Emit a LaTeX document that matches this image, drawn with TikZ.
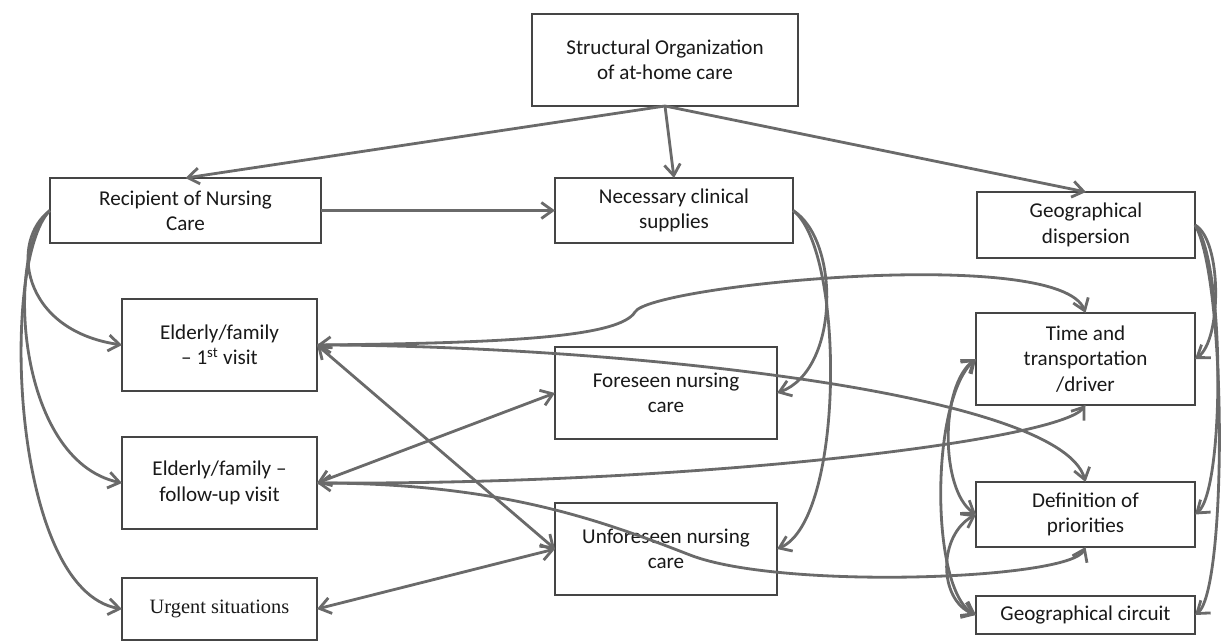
\documentclass[tikz,border=0pt]{standalone}
\usepackage{fontspec}
\setmainfont{Carlito}
\newfontfamily\serifface{Liberation Serif}
\usetikzlibrary{arrows.meta}
\definecolor{linkgray}{HTML}{6A6A6A}
\definecolor{boxgray}{HTML}{454545}
\tikzset{
  box/.style={draw=boxgray, line width=1.3pt, fill=white, inner sep=0pt, outer sep=0pt,
    align=center, text=black!90, font=\fontsize{15}{18}\selectfont},
  link/.style={draw=linkgray, line width=2pt, -{Straight Barb[length=2.8mm,width=4mm]}},
  twoway/.style={link, {Straight Barb[length=2.8mm,width=4mm]}-{Straight Barb[length=2.8mm,width=4mm]}}
}
\begin{document}
\begin{tikzpicture}[x=0.025cm, y=-0.025cm]
    \useasboundingbox (0,0) rectangle (1224,642);
    % boxes
    \node[box, minimum width=6.65cm, minimum height=2.3cm] (top) at (665,60) {Structural Organization\\of at-home care};
    \node[box, minimum width=6.775cm, minimum height=1.625cm] (recip) at (185.5,210.5) {Recipient of Nursing\\Care};
    \node[box, minimum width=5.95cm, minimum height=1.625cm] (nec) at (674,210.5) {Necessary clinical\\supplies};
    \node[box, minimum width=5.45cm, minimum height=1.65cm] (geodisp) at (1086,225) {Geographical\\dispersion};
    \node[box, minimum width=4.875cm, minimum height=2.3cm] (elder1) at (219.5,345) {Elderly/family\\– 1\textsuperscript{st} visit};
    \node[box, minimum width=4.875cm, minimum height=2.3cm] (elder2) at (219.5,483) {Elderly/family –\\follow-up visit};
    \node[box, minimum width=4.875cm, minimum height=1.55cm, font=\serifface\fontsize{14.5}{17}\selectfont] (urgent) at (219.5,609) {Urgent situations};
    \node[box, minimum width=5.55cm, minimum height=2.3cm] (fore) at (666,393) {Foreseen nursing\\care};
    \node[box, minimum width=5.55cm, minimum height=2.3cm] (unfore) at (666,549) {Unforeseen nursing\\care};
    \node[box, minimum width=5.475cm, minimum height=2.3cm] (time) at (1085.5,359) {Time and\\transportation\\/driver};
    \node[box, minimum width=5.475cm, minimum height=1.625cm] (defin) at (1085.5,514.5) {Definition of\\priorities};
    \node[box, minimum width=5.475cm, minimum height=0.95cm] (circ) at (1085.5,615) {Geographical circuit};
    % from the top
    \foreach \dst in {recip, nec, geodisp}
        \draw[link] (top.south) -- (\dst.north);
    \draw[link] (recip.east) -- (nec.west);
    % left column
    \draw[link] (recip.west) .. controls (10,240) and (20,330) .. (elder1.west);
    \draw[link] (recip.west) .. controls (5,250) and (15,460) .. (elder2.west);
    \draw[link] (recip.west) .. controls (0,260) and (10,590) .. (urgent.west);
    % supplies
    \draw[link] (nec.east) .. controls (840,240) and (840,370) .. (fore.east);
    \draw[link] (nec.east) .. controls (845,250) and (845,520) .. (unfore.east);
    % dispersion
    \draw[link] (geodisp.east) .. controls (1222,240) and (1222,340) .. (time.east);
    \draw[link] (geodisp.east) .. controls (1225,260) and (1225,490) .. (defin.east);
    \draw[link] (geodisp.east) .. controls (1227,280) and (1227,590) .. (circ.east);
    % elderly links
    \draw[twoway] (elder1.east) .. controls (520,343) and (620,336) .. (635,312)
        .. controls (650,285) and (1060,245) .. (time.north);
    \draw[link] (elder1.east) .. controls (600,345) and (1060,390) .. (defin.north);
    \draw[twoway] (elder1.east) -- (unfore.west);
    \draw[twoway] (elder2.east) -- (fore.west);
    \draw[twoway] (elder2.east) .. controls (700,485) and (1060,440) .. (time.south);
    \draw[link] (elder2.east) .. controls (500,483) and (600,520) .. (690,555)
        .. controls (780,590) and (1070,580) .. (defin.south);
    \draw[twoway] (urgent.east) -- (unfore.west);
    % right column
    \draw[twoway] (time.west) .. controls (940,385) and (940,490) .. (defin.west);
    \draw[twoway] (time.west) .. controls (930,400) and (930,590) .. (circ.west);
    \draw[twoway] (defin.west) .. controls (938,535) and (938,600) .. (circ.west);
\end{tikzpicture}
\end{document}
